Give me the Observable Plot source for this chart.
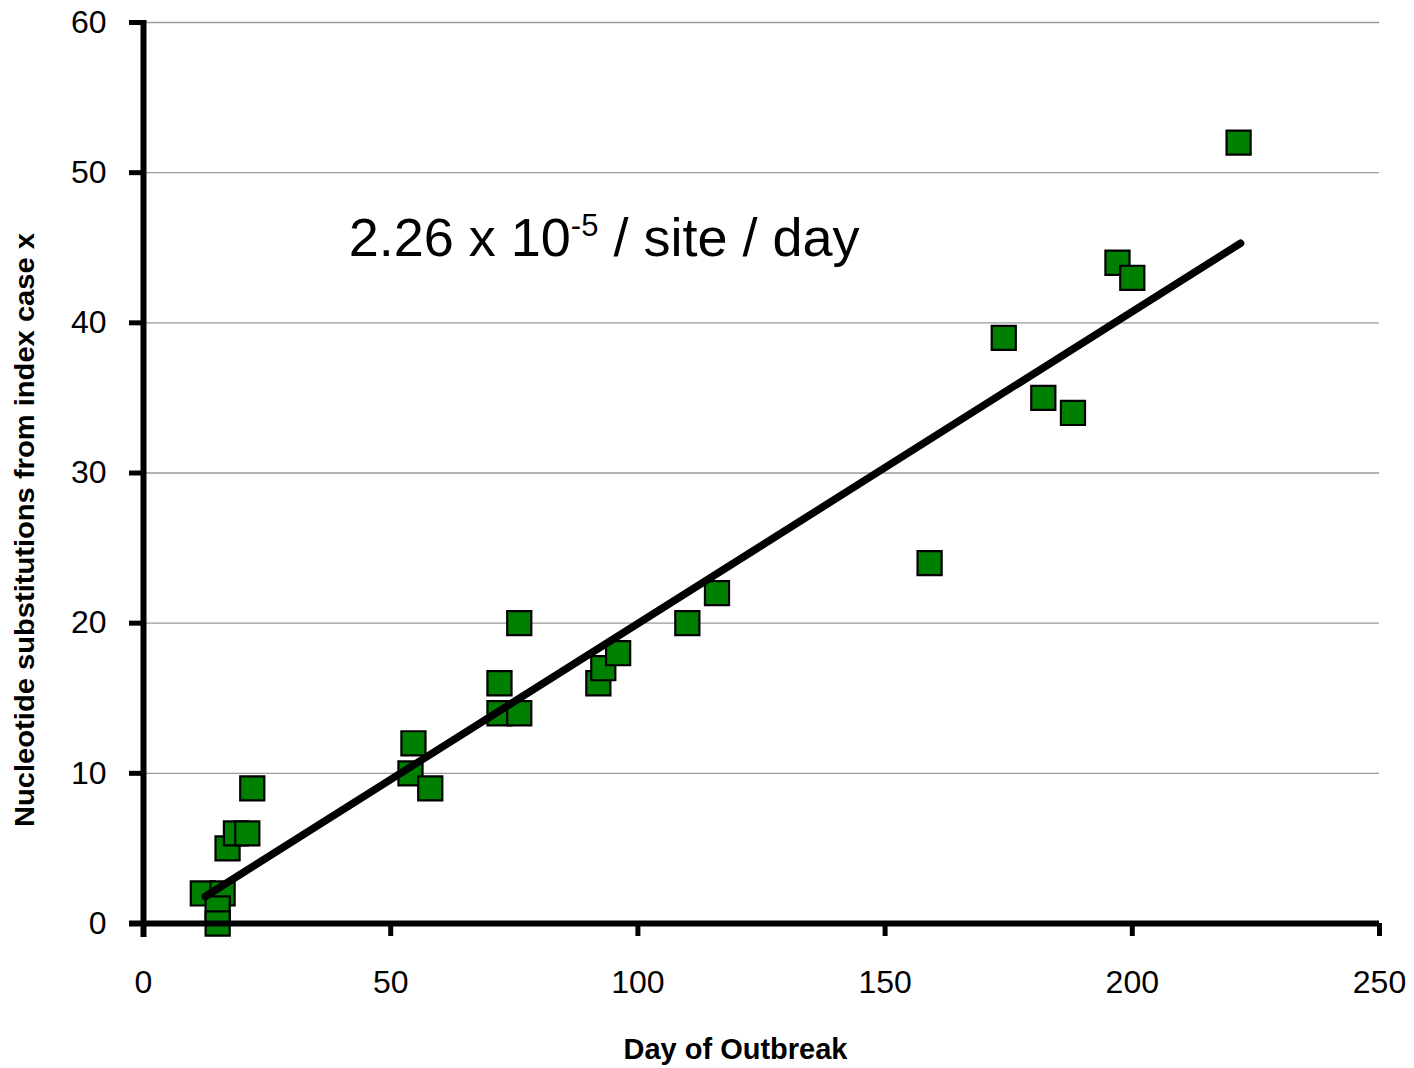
<!DOCTYPE html>
<html>
<head>
<meta charset="utf-8">
<script src="https://cdn.jsdelivr.net/npm/d3@7"></script>
<script src="https://cdn.jsdelivr.net/npm/@observablehq/plot@0.6"></script>
<style>
  html, body { margin: 0; padding: 0; background: #fff; }
  #chart svg { display: block; }
</style>
</head>
<body>
<div id="chart"></div>
<script>
// Data
const days = [12, 16, 15, 15, 17, 18.7, 21, 22, 54, 54.6, 58, 72, 72, 76, 76, 92, 93, 96, 110, 116, 159, 174, 182, 188, 197, 200, 221.5];
const subs = [2, 2, 1, 0, 5, 6, 6, 9, 10, 12, 9, 16, 14, 14, 20, 16, 17, 18, 20, 22, 24, 39, 35, 34, 44, 43, 52];

// Trend line end points
const fitDays = [12.5, 221.9];
const fitSubs = [1.8, 45.3];

const xTicks = [0, 50, 100, 150, 200, 250];
const yTicks = [0, 10, 20, 30, 40, 50, 60];

const xLabel = "Day of Outbreak";
const yLabel = "Nucleotide substitutions from index case x";
const rateParts = ["2.26 x 10", "-5", " / site / day"];
const rateDay = [41.5];
const rateSubs = [45.6];

const points = days.map((d, i) => ({day: d, subs: subs[i]}));
const fit = fitDays.map((d, i) => ({day: d, subs: fitSubs[i]}));

const plot = Plot.plot({
  width: 1414,
  height: 1068,
  marginLeft: 143,
  marginRight: 35,
  marginTop: 22,
  marginBottom: 145,
  style: {fontFamily: "'Liberation Sans', Arial, sans-serif", background: "#fff", color: "#000"},
  x: {domain: [0, 250]},
  y: {domain: [0, 60]},
  marks: [
    Plot.gridY(yTicks.slice(1), {stroke: "#9a9a9a", strokeOpacity: 1, strokeWidth: 1.3}),
    Plot.dot(points, {x: "day", y: "subs", symbol: "square", r: 13.6, fill: "#008000", stroke: "#000", strokeWidth: 2.2}),
    Plot.line(fit, {x: "day", y: "subs", stroke: "#000", strokeWidth: 7.5, strokeLinecap: "round"}),
    Plot.axisY(yTicks, {tickSize: 14, tickPadding: 23, strokeWidth: 5, fontSize: 32, label: null}),
    Plot.axisX(xTicks, {tickSize: 13, tickPadding: 34, strokeWidth: 5, fontSize: 32, label: null}),
    Plot.ruleX([0], {strokeWidth: 6, insetBottom: -14, insetTop: -2}),
    Plot.ruleY([0], {strokeWidth: 6, insetLeft: -14}),
    Plot.text([xLabel], {frameAnchor: "bottom", lineAnchor: "middle", dy: 126, dx: -26, fontWeight: "bold", fontSize: 29}),
    Plot.text([yLabel], {frameAnchor: "left", textAnchor: "middle", lineAnchor: "middle", rotate: -90, dx: -118, dy: 57, fontWeight: "bold", fontSize: 27}),
    Plot.text([rateParts.join("")], {x: rateDay, y: rateSubs, textAnchor: "start", fontSize: 54})
  ]
});

document.getElementById("chart").appendChild(plot);

// Superscript in the rate annotation
const texts = [...plot.querySelectorAll("text")];
const rate = texts.find(t => t.textContent === rateParts.join(""));
if (rate) {
  rate.textContent = "";
  rate.setAttribute("style", "white-space: pre");
  const s = d3.select(rate);
  s.append("tspan").text(rateParts[0]);
  s.append("tspan").attr("font-size", 31).attr("dy", -20).text(rateParts[1]);
  s.append("tspan").attr("dy", 20).text(rateParts[2]);
}
// Condensed y label
const yl = texts.find(t => t.textContent === yLabel);
if (yl) {
  yl.setAttribute("textLength", 594);
  yl.setAttribute("lengthAdjust", "spacingAndGlyphs");
}
</script>
</body>
</html>
